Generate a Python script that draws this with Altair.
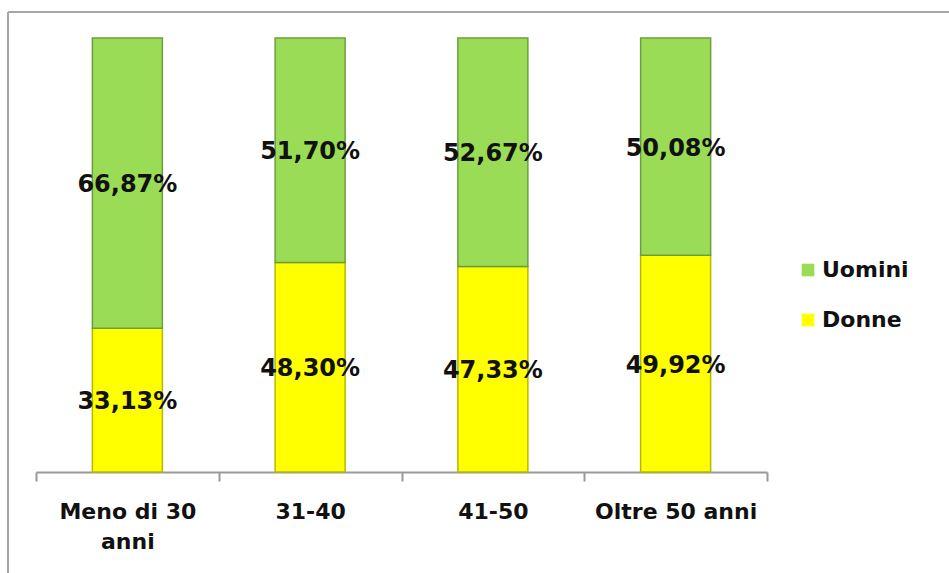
import altair as alt
import pandas as pd

# Share of women and men per age group (percent)
categories = ["Meno di 30 anni", "31-40", "41-50", "Oltre 50 anni"]
donne = [33.13, 48.30, 47.33, 49.92]
uomini = [66.87, 51.70, 52.67, 50.08]
series = ["Uomini", "Donne"]
colors = ["#9ADC55", "#FFFF00"]
strokes = ["#6E9E3C", "#B8B800"]

rows = []
for i, cat in enumerate(categories):
    rows.append({"cat": cat, "serie": "Donne", "ord": 0, "v": donne[i]})
    rows.append({"cat": cat, "serie": "Uomini", "ord": 1, "v": uomini[i]})
df = pd.DataFrame(rows)
df["label"] = df["v"].map(lambda x: f"{x:.2f}".replace(".", ",") + "%")

FONT = "DejaVu Sans"

x_enc = alt.X(
    "cat:N",
    sort=categories,
    title=None,
    scale=alt.Scale(paddingInner=0, paddingOuter=0),
    axis=alt.Axis(
        labelAngle=0,
        labelFont=FONT,
        labelFontSize=22,
        labelFontWeight="bold",
        labelColor="#111111",
        labelPadding=20,
        labelLineHeight=30,
        labelExpr="datum.label == 'Meno di 30 anni' ? ['Meno di 30', 'anni'] : datum.label",
        tickBand="extent",
        tickSize=9,
        tickColor="#999999",
        tickWidth=2,
        domainColor="#999999",
        domainWidth=2,
        grid=False,
    ),
)

y_scale = alt.Scale(domain=[0, 100], nice=False)

bars = alt.Chart(df).mark_bar(size=70, strokeWidth=1.5).encode(
    x=x_enc,
    y=alt.Y("v:Q", stack="zero", scale=y_scale, axis=None),
    color=alt.Color(
        "serie:N",
        scale=alt.Scale(domain=series, range=colors),
        legend=alt.Legend(
            title=None,
            orient="none",
            legendX=761,
            legendY=221,
            symbolType="square",
            symbolSize=160,
            symbolStrokeWidth=0,
            labelFont=FONT,
            labelFontSize=22,
            labelFontWeight="bold",
            labelColor="#111111",
            rowPadding=28,
            symbolOffset=0,
            labelOffset=3,
        ),
    ),
    stroke=alt.Stroke("serie:N", scale=alt.Scale(domain=series, range=strokes), legend=None),
    order=alt.Order("ord:Q"),
)

labels = alt.Chart(df).transform_stack(
    stack="v", groupby=["cat"], as_=["v0", "v1"], sort=[alt.SortField("ord")]
).transform_calculate(
    mid="(datum.v0 + datum.v1) / 2"
).mark_text(
    font=FONT, fontSize=24, fontWeight="bold", color="#111111", dy=2
).encode(
    x=alt.X("cat:N", sort=categories),
    y=alt.Y("mid:Q", scale=y_scale),
    text="label:N",
)

# Frame lines around the chart region
frame_top = alt.Chart(df).mark_rule(color="#A6A6A6", strokeWidth=2).encode(
    x=alt.value(-28), x2=alt.value(913), y=alt.value(-26)
)
frame_left = alt.Chart(df).mark_rule(color="#A6A6A6", strokeWidth=2).encode(
    x=alt.value(-28), y=alt.value(-26), y2=alt.value(535)
)

chart = alt.layer(bars, labels, frame_top, frame_left).properties(
    width=731,
    height=434,
    autosize=alt.AutoSizeParams(type="none"),
    padding={"left": 36, "top": 38, "right": 182, "bottom": 101},
).configure(
    background="white",
    view=alt.ViewConfig(stroke="transparent", strokeWidth=0),
)

chart.save("out.html", embed_options={"renderer": "svg", "actions": False})
